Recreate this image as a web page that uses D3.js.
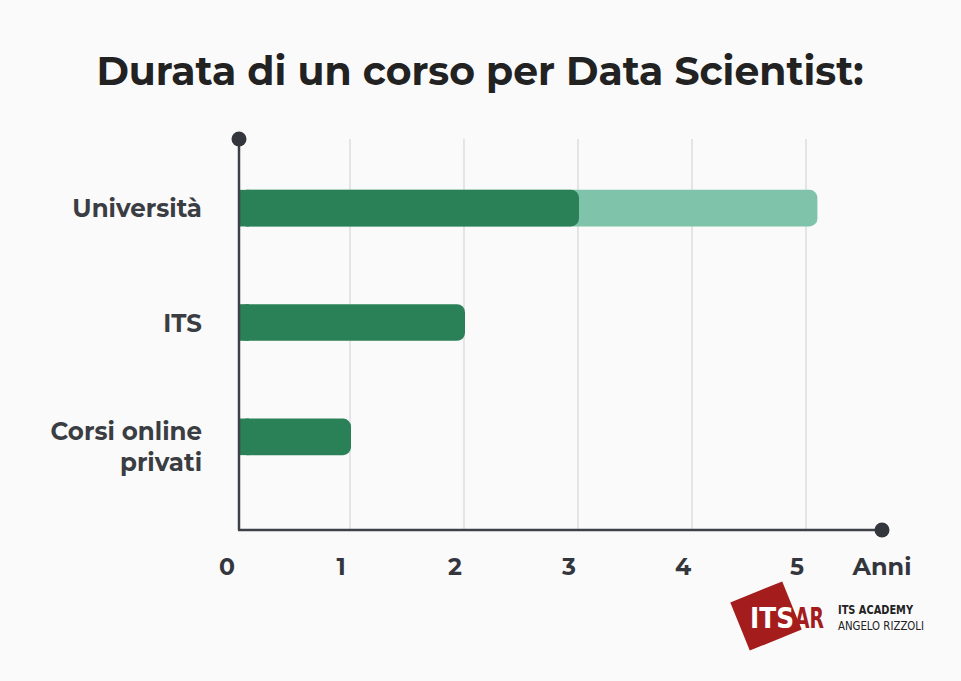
<!DOCTYPE html>
<html><head><meta charset="utf-8">
<script src="https://cdn.jsdelivr.net/npm/d3@7"></script>
<style>html,body{margin:0;padding:0;background:#fafafa;}svg{display:block;}</style>
</head><body>
<script>
const categories = ["Università", "ITS", "Corsi online privati"];
const categoryLines = [["Università"], ["ITS"], ["Corsi online", "privati"]];
const minYears = [3, 2, 1];
const maxYears = [5.1, null, null];
const xTicks = [0, 1, 2, 3, 4, 5];
const title = "Durata di un corso per Data Scientist:";
const axisLabel = "Anni";

const W = 961, H = 681;
const svg = d3.select("body").append("svg").attr("width", W).attr("height", H);
svg.append("rect").attr("width", W).attr("height", H).attr("fill", "#fafafa");

const font = "Montserrat, 'DejaVu Sans', sans-serif";
const x = d3.scaleLinear().domain([0, 5]).range([236, 806]);
const y = d3.scaleBand().domain(categories).range([151, 494]).paddingInner(0.68).paddingOuter(0.34);

svg.append("text").attr("x", 480).attr("y", 85).attr("text-anchor", "middle")
  .attr("font-family", font).attr("font-weight", "bold").attr("font-size", 39.3)
  .attr("fill", "#222").text(title);

// gridlines
svg.append("g").selectAll("line").data(xTicks.filter(d => d > 0)).join("line")
  .attr("x1", d => x(d)).attr("x2", d => x(d)).attr("y1", 139).attr("y2", 530)
  .attr("stroke", "#cfcfcf").attr("stroke-width", 1);

// bars
const g = svg.append("g");
categories.forEach((c, i) => {
  if (maxYears[i] != null) {
    g.append("rect").attr("x", x(0) + 3).attr("y", y(c)).attr("height", y.bandwidth())
      .attr("width", x(maxYears[i]) - x(0) - 3).attr("rx", 8).attr("fill", "#7fc4aa");
  }
  g.append("rect").attr("x", x(0) + 3).attr("y", y(c)).attr("height", y.bandwidth())
    .attr("width", x(minYears[i]) - x(0) - 3 + 1).attr("rx", 8).attr("fill", "#2a8157");
  g.append("rect").attr("x", x(0) + 3).attr("y", y(c)).attr("height", y.bandwidth())
    .attr("width", 10).attr("fill", "#2a8157");
});

// axes
svg.append("line").attr("x1", 239).attr("x2", 239).attr("y1", 139).attr("y2", 530)
  .attr("stroke", "#3d4046").attr("stroke-width", 2.5);
svg.append("line").attr("x1", 238).attr("x2", 882).attr("y1", 530).attr("y2", 530)
  .attr("stroke", "#3d4046").attr("stroke-width", 2.5);
svg.append("circle").attr("cx", 239).attr("cy", 139).attr("r", 7.5).attr("fill", "#33373d");
svg.append("circle").attr("cx", 882).attr("cy", 530).attr("r", 7.5).attr("fill", "#33373d");

// tick labels
svg.append("g").selectAll("text").data(xTicks).join("text")
  .attr("x", d => x(d) - 9).attr("y", 575).attr("text-anchor", "middle")
  .attr("font-family", font).attr("font-weight", "bold").attr("font-size", 23.5)
  .attr("fill", "#33373d").text(d => d);
svg.append("text").attr("x", 882).attr("y", 575).attr("text-anchor", "middle")
  .attr("font-family", font).attr("font-weight", "bold").attr("font-size", 24)
  .attr("fill", "#33373d").text(axisLabel);

// category labels
categories.forEach((c, i) => {
  const lines = categoryLines[i];
  const cy = y(c) + y.bandwidth() / 2;
  const lh = 31;
  const t = svg.append("text").attr("text-anchor", "end")
    .attr("font-family", font).attr("font-weight", "bold").attr("font-size", 24.5)
    .attr("fill", "#3a3d42");
  lines.forEach((l, j) => {
    t.append("tspan").attr("x", 202)
      .attr("y", cy + 9 + (j - (lines.length - 1) / 2) * lh + (lines.length > 1 ? 10 : 0)).text(l);
  });
});

// logo
const logo = svg.append("g");
const cond = "'Liberation Sans Narrow','DejaVu Sans Condensed',sans-serif";
logo.append("rect").attr("x", -28).attr("y", -26).attr("width", 56).attr("height", 52)
  .attr("fill", "#a51c1c").attr("transform", "translate(766,616) rotate(-22)");
logo.append("text").attr("x", 750).attr("y", 628).attr("font-family", cond)
  .attr("font-size", 29).attr("font-weight", "bold").attr("fill", "#fff")
  .attr("textLength", 44).attr("lengthAdjust", "spacingAndGlyphs").text("ITS");
logo.append("text").attr("x", 795).attr("y", 628).attr("font-family", cond)
  .attr("font-size", 29).attr("font-weight", "bold").attr("fill", "#a51c1c")
  .attr("textLength", 29).attr("lengthAdjust", "spacingAndGlyphs").text("AR");
logo.append("text").attr("x", 838).attr("y", 614).attr("font-family", cond)
  .attr("font-size", 13).attr("font-weight", "bold").attr("fill", "#222")
  .attr("textLength", 75).attr("lengthAdjust", "spacingAndGlyphs").text("ITS ACADEMY");
logo.append("text").attr("x", 838).attr("y", 630).attr("font-family", cond)
  .attr("font-size", 13).attr("fill", "#222")
  .attr("textLength", 86).attr("lengthAdjust", "spacingAndGlyphs").text("ANGELO RIZZOLI");
</script>
</body></html>
